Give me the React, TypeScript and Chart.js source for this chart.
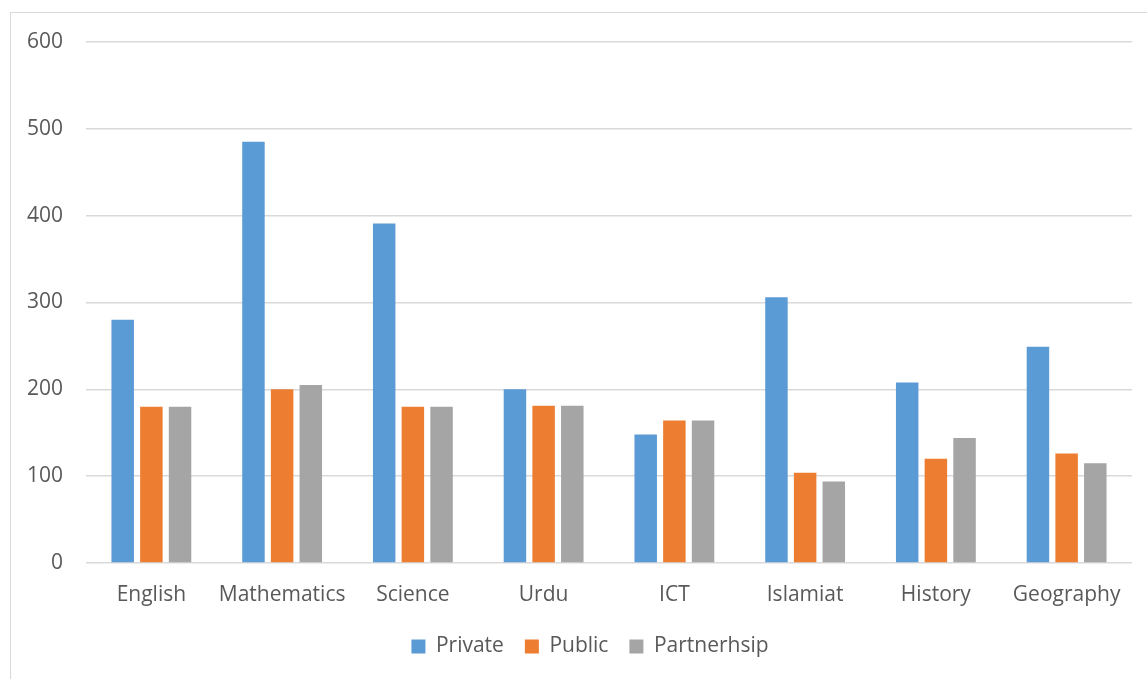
import React, { useEffect, useRef } from "react";
import { Chart, registerables } from "chart.js";

Chart.register(...registerables);

const subjects = ["English", "Mathematics", "Science", "Urdu", "ICT", "Islamiat", "History", "Geography"];
const privateValues = [280, 485, 391, 200, 148, 306, 208, 249];
const publicValues = [180, 200, 180, 181, 164, 104, 120, 126];
const partnershipValues = [180, 205, 180, 181, 164, 94, 144, 115];
const yTicks = [0, 100, 200, 300, 400, 500, 600];

const TEXT = "#595959";
const GRID = "#D9D9D9";
const FONT = { family: "'Open Sans', 'DejaVu Sans', sans-serif", size: 21 };

// Centre the legend under the inner plot region instead of the full canvas width.
const legendOffset = {
  id: "legendOffset",
  afterLayout(chart: any) {
    if (chart.legend) chart.legend.left = 48;
  },
};

export default function App() {
  const canvasRef = useRef<HTMLCanvasElement | null>(null);

  useEffect(() => {
    if (!canvasRef.current) return;
    const chart = new Chart(canvasRef.current, {
      type: "bar",
      data: {
        labels: subjects,
        datasets: [
          { label: "Private", data: privateValues, backgroundColor: "#5B9BD5" },
          { label: "Public", data: publicValues, backgroundColor: "#ED7D31" },
          { label: "Partnerhsip", data: partnershipValues, backgroundColor: "#A5A5A5" },
        ],
      },
      options: {
        responsive: false,
        animation: false,
        datasets: {
          bar: { categoryPercentage: 0.658, barPercentage: 0.784 },
        },
        layout: { padding: { left: 0, right: 15, top: 42, bottom: 12 } },
        plugins: {
          tooltip: { enabled: false },
          legend: {
            position: "bottom",
            labels: {
              color: TEXT,
              font: FONT,
              boxWidth: 14,
              boxHeight: 14,
              padding: 21,
            },
          },
        },
        scales: {
          x: {
            grid: { display: false, drawTicks: false },
            border: { display: false },
            ticks: { color: TEXT, font: FONT, padding: 19, maxRotation: 0 },
            afterFit: (s: any) => {
              s.height = 52;
            },
          },
          y: {
            min: 0,
            max: 600,
            afterBuildTicks: (s: any) => {
              s.ticks = yTicks.map((v) => ({ value: v }));
            },
            grid: { color: GRID, lineWidth: 1.6, drawTicks: false },
            border: { display: false },
            ticks: { color: TEXT, font: FONT, padding: 23 },
            afterFit: (s: any) => {
              s.width = 86;
            },
          },
        },
      },
      plugins: [legendOffset],
    });
    return () => chart.destroy();
  }, []);

  return (
    <div style={{ position: "absolute", left: 0, top: 0, width: 1147, height: 679, background: "#fff", overflow: "hidden" }}>
      <div
        style={{
          position: "absolute",
          left: 10,
          top: 12,
          right: -5,
          bottom: -5,
          borderLeft: `1px solid ${GRID}`,
          borderTop: `1px solid ${GRID}`,
        }}
      />
      <canvas ref={canvasRef} width={1147} height={679} style={{ position: "absolute", left: 0, top: 0 }} />
    </div>
  );
}
